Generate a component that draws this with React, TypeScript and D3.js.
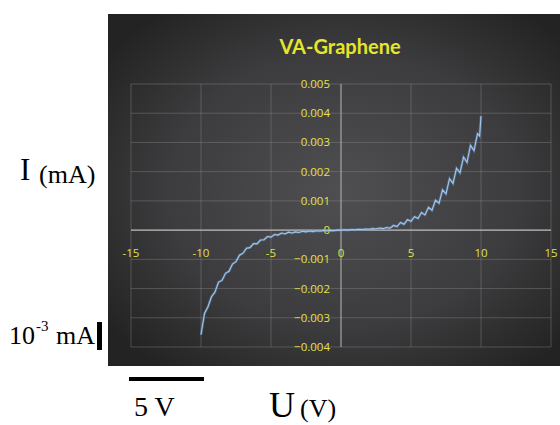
import React from 'react';
import * as d3 from 'd3';

// Voltage sweep (V) and measured current (mA)
const voltage = [
  -10, -9.75, -9.5, -9.25, -9, -8.75, -8.5, -8.25, -8, -7.75, -7.5, -7.25, -7, -6.75, -6.5, -6.25,
  -6, -5.75, -5.5, -5.25, -5, -4.75, -4.5, -4.25, -4, -3.75, -3.5, -3.25, -3, -2.75, -2.5, -2.25,
  -2, -1.75, -1.5, -1.25, -1, -0.75, -0.5, -0.25, 0, 0.25, 0.5, 0.75, 1, 1.25, 1.5, 1.75,
  2, 2.25, 2.5, 2.75, 3, 3.25, 3.5, 3.75, 4, 4.25, 4.5, 4.75, 5, 5.25, 5.5, 5.75,
  6, 6.25, 6.5, 6.75, 7, 7.25, 7.5, 7.75, 8, 8.25, 8.5, 8.75, 9, 9.25, 9.5, 9.75, 9.9, 10,
];
const current = [
  -0.00358, -0.00285, -0.00262, -0.00228, -0.00212, -0.00178, -0.00172, -0.00148, -0.00141, -0.00116,
  -0.00108, -0.00086, -0.00079, -0.00062, -0.0006, -0.00046, -0.00047, -0.00034, -0.00033, -0.00022,
  -0.00024, -0.00015, -0.00017, -0.0001, -0.00013, -0.00007, -0.0001, -0.00006, -0.00008, -0.00004,
  -0.00006, -0.00003, -0.00005, -0.00002, -0.00004, -0.00001, -0.00003, -0.00001, -0.00002, 0,
  0, 0.00001, 0, 0.00002, 0.00001, 0.00003, 0.00002, 0.00004, 0.00003, 0.00005,
  0.00004, 0.00007, 0.00005, 0.00009, 0.00007, 0.00016, 0.00012, 0.00026, 0.0002, 0.00036,
  0.0003, 0.00046, 0.0004, 0.0006, 0.00052, 0.00078, 0.00068, 0.00102, 0.00092, 0.00138,
  0.00124, 0.00176, 0.0016, 0.00212, 0.00196, 0.0025, 0.00232, 0.0029, 0.00272, 0.0033,
  0.00322, 0.0039,
];
const xTicks = [-15, -10, -5, 0, 5, 10, 15];
const yTicks = [-0.004, -0.003, -0.002, -0.001, 0, 0.001, 0.002, 0.003, 0.004, 0.005];

const W = 560;
const H = 425;

const App = () => {
  const x = d3.scaleLinear().domain([-15, 15]).range([131, 551]);
  const y = d3.scaleLinear().domain([-0.004, 0.005]).range([347, 84]);

  const pts = voltage.map((v, i) => [v, current[i]] as [number, number]);
  const line = d3
    .line<[number, number]>()
    .x((d) => x(d[0]))
    .y((d) => y(d[1]));

  const label = '#e2e24a';
  const grid = 'rgba(140,140,140,0.4)';

  return (
    <svg width={W} height={H} style={{ position: 'absolute', left: 0, top: 0, background: '#fff' }}>
      <defs>
        <radialGradient id="bg" cx="52%" cy="50%" r="65%">
          <stop offset="0%" stopColor="#4f4f52" />
          <stop offset="60%" stopColor="#3c3c3e" />
          <stop offset="100%" stopColor="#232323" />
        </radialGradient>
        <filter id="glow" x="-10%" y="-10%" width="120%" height="120%">
          <feGaussianBlur stdDeviation="0.6" />
        </filter>
      </defs>

      {/* chart panel */}
      <rect x={108} y={14} width={452} height={352} fill="url(#bg)" />

      <text
        x={340}
        y={54}
        textAnchor="middle"
        fill="#e6e62a"
        fontFamily="Lato, 'Open Sans', sans-serif"
        fontWeight="bold"
        fontSize={20}
      >
        VA-Graphene
      </text>

      {/* gridlines */}
      {yTicks.map((t) => (
        <line key={'gy' + t} x1={x(-15)} x2={x(15)} y1={y(t)} y2={y(t)} stroke={grid} strokeWidth={1} />
      ))}
      {xTicks.map((t) => (
        <line key={'gx' + t} x1={x(t)} x2={x(t)} y1={y(0.005)} y2={y(-0.004)} stroke={grid} strokeWidth={1} />
      ))}
      {/* axes */}
      <line x1={x(-15)} x2={x(15)} y1={y(0)} y2={y(0)} stroke="#b8b8b8" strokeWidth={1.2} />
      <line x1={x(0)} x2={x(0)} y1={y(0.005)} y2={y(-0.004)} stroke="#a8a8b0" strokeWidth={1} />

      {/* tick labels */}
      {xTicks.map((t) => (
        <text
          key={'xl' + t}
          x={x(t)}
          y={y(0) + 27}
          textAnchor="middle"
          fill={label}
          fontFamily="'Open Sans', sans-serif"
          fontSize={11.5}
        >
          {t}
        </text>
      ))}
      {yTicks.map((t) => (
        <text
          key={'yl' + t}
          x={x(0) - 11}
          y={y(t) + 4}
          textAnchor="end"
          fill={label}
          fontFamily="'Open Sans', sans-serif"
          fontSize={11.5}
        >
          {t === 0 ? '0' : d3.format('.3f')(t)}
        </text>
      ))}

      {/* I-V curve */}
      <path d={line(pts) || ''} fill="none" stroke="#5f8fc4" strokeWidth={2.6} opacity={0.5} filter="url(#glow)" />
      <path d={line(pts) || ''} fill="none" stroke="#a6c6ea" strokeWidth={1.1} />

      {/* annotations outside the panel */}
      <g fontFamily="'Liberation Serif', 'Times New Roman', serif" fill="#000">
        <text x={20} y={180} fontSize={31}>I</text>
        <text x={39} y={183} fontSize={26}>(mA)</text>

        <text x={9} y={344} fontSize={26}>10</text>
        <text x={36} y={331} fontSize={15}>-3</text>
        <text x={56} y={344} fontSize={26}>mA</text>

        <text x={134} y={416} fontSize={28}>5 V</text>
        <text x={269} y={417} fontSize={36}>U</text>
        <text x={300} y={417} fontSize={26}>(V)</text>
      </g>
      <rect x={97} y={322} width={5} height={28} fill="#000" />
      <rect x={129} y={377} width={75} height={4} fill="#000" />
    </svg>
  );
};

export default App;
